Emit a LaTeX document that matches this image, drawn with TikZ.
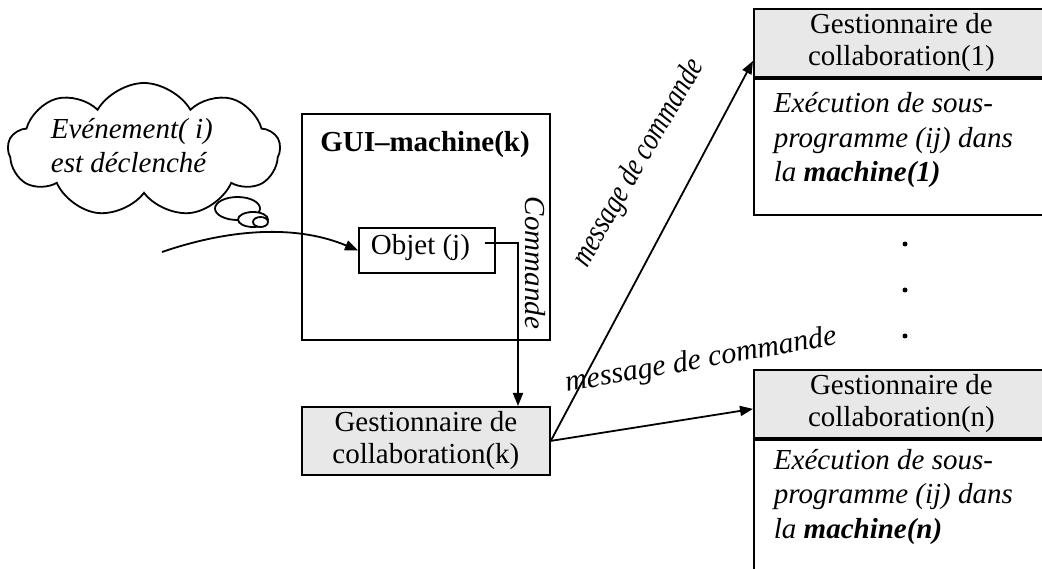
\documentclass[tikz,border=0pt]{standalone}
\usepackage{fontspec}
\setmainfont{Liberation Serif}
\usetikzlibrary{arrows.meta,shapes.symbols,shapes.geometric,calc}
\definecolor{hdrgray}{RGB}{232,232,232}
\begin{document}
\begin{tikzpicture}[x=1pt,y=-1pt,line width=1.8pt,
  txt/.style={font=\fontsize{29}{32}\selectfont, inner sep=0},
  itxt/.style={font=\itshape\fontsize{29}{34.5}\selectfont, inner sep=0, align=left},
  hdr/.style={draw, fill=hdrgray, align=center, inner sep=0,
              minimum width=295pt, minimum height=68pt, anchor=north west,
              font=\fontsize{29}{32}\selectfont},
  bodybox/.style={draw, minimum width=295pt, anchor=north west, inner sep=0},
  arr/.style={-{Triangle[length=13pt,width=10pt]}},
  msg/.style={font=\itshape\fontsize{30}{32}\selectfont, inner sep=0},
  puff/.style={draw, fill=white, ellipse, inner sep=0},
  dot/.style={circle, fill=black, inner sep=0, minimum size=5pt}]
\useasboundingbox (0,0) rectangle (1042,569);
\clip (0,0) rectangle (1042,569);

% thought bubble
\node[puff, minimum width=45pt, minimum height=23pt] (p1) at (237.5,208.5) {};
\node[cloud, draw, fill=white, cloud puffs=9, cloud puff arc=120, aspect=2,
      minimum width=272pt, minimum height=134pt, inner sep=0] (cl) at (144,150) {};
\node[puff, minimum width=30pt, minimum height=15pt] (p2) at (253,219.5) {};
\node[puff, minimum width=15pt, minimum height=10pt] (p3) at (260.5,222) {};
\node[itxt, anchor=base west] (ev) at (50,173) {Evénement( i)\\est déclenché};

% GUI machine k
\node[draw, minimum width=248pt, minimum height=226pt, anchor=north west, inner sep=0] (gui) at (301,113) {};
\node[txt, font=\bfseries\fontsize{29}{32}\selectfont, anchor=base] (guit) at (425,152) {GUI–machine(k)};
\node[draw, minimum width=136pt, minimum height=45pt, anchor=north west, inner sep=0] (obj) at (358,227) {};
\node[txt, anchor=base west] (objt) at (370,255) {Objet (j)};
\node[itxt, rotate=-90] (cmd) at (535,263) {Commande};

% local collaboration manager
\node[hdr, minimum width=248pt] (gk) at (301,406) {Gestionnaire de\\collaboration(k)};

% remote machines
\node[hdr] (g1) at (753,8) {Gestionnaire de\\collaboration(1)};
\node[bodybox, minimum height=136pt] (b1) at (g1.south west) {};
\node[itxt, anchor=base west] (t1) at (773,182) {Exécution de sous-\\programme (ij) dans\\la \textbf{machine(1)}};

\node[hdr] (gn) at (753,369) {Gestionnaire de\\collaboration(n)};
\node[bodybox, minimum height=160pt] (bn) at (gn.south west) {};
\node[itxt, anchor=base west] (tn) at (773,538) {Exécution de sous-\\programme (ij) dans\\la \textbf{machine(n)}};

\node[dot] (d1) at (905,244) {};
\node[dot] (d2) at (905,290) {};
\node[dot] (d3) at (905,336) {};

% connectors
\coordinate (ev0) at (162,252);
\draw[arr] (ev0) .. controls (220,232) and (290,222) .. (obj.west);
\draw[arr] ($(obj.east)+(-11,-7)$) -| (gk.north -| 518,0);
\draw[arr] (gk.east) -- ($(g1.west)+(0,18)$);
\draw[arr] (gk.east) -- ($(gn.west)+(0,5)$);

\node[msg, font=\itshape\fontsize{32}{34}\selectfont, rotate=60] (m1) at (639,163) {\scalebox{0.8}[1]{message de commande}};
\node[msg, rotate=10] (m2) at (701,361) {message de commande};
\end{tikzpicture}
\end{document}
